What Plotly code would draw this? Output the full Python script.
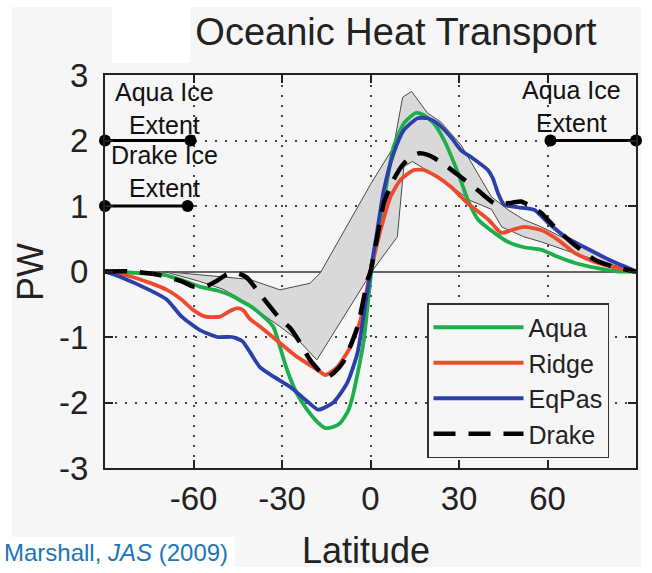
import plotly.graph_objects as go

# ---------------- data: northward ocean heat transport (PW) vs latitude ----------------
aqua_lat = [-90, -80, -70, -64, -58, -52, -47, -44.3, -41, -37.5, -33, -30.7, -28.3, -25, -21.5,
            -18, -15.3, -12.5, -10.2, -7.5, -5.8, -2.4, 0.3, 3.4, 5.7, 7.8, 11.3, 15.3, 18, 21.5,
            25, 29.7, 33, 36.5, 42, 46.7, 52, 58, 63.7, 69.3, 77, 84, 90]
aqua_pw = [0, -0.02, -0.05, -0.13, -0.23, -0.29, -0.37, -0.44, -0.52, -0.64, -0.84, -1.15, -1.5,
           -1.86, -2.11, -2.3, -2.39, -2.37, -2.31, -2.12, -1.86, -1.09, 0.0, 0.79, 1.4, 1.9, 2.26,
           2.42, 2.39, 2.26, 2.0, 1.5, 1.09, 0.79, 0.59, 0.45, 0.37, 0.33, 0.22, 0.13, 0.05, 0.0, 0]

ridge_lat = [-90, -81, -75, -69, -64, -60, -56, -51, -47.5, -45, -43, -41, -37.5, -30.7, -25, -18,
             -15.3, -11.3, -6.8, -3.4, 0, 3.4, 6.8, 10.2, 14.7, 18, 22.8, 27.3, 33, 40, 44.3, 47.7,
             52, 58, 63.7, 69.3, 77, 84, 90]
ridge_pw = [0, -0.08, -0.17, -0.28, -0.43, -0.59, -0.69, -0.69, -0.6, -0.56, -0.6, -0.72, -0.84,
            -1.09, -1.3, -1.5, -1.58, -1.46, -1.15, -0.74, 0, 0.63, 1.14, 1.4, 1.55, 1.55, 1.44,
            1.29, 1.04, 0.79, 0.59, 0.63, 0.68, 0.63, 0.48, 0.28, 0.13, 0.05, 0]

eqpas_lat = [-90, -85, -75, -69, -64, -58, -52, -47, -43.5, -41, -37.5, -33, -27.3, -21.5, -17.7,
             -12.6, -7.9, -4.4, -1.7, 0, 2.3, 4.5, 7.8, 11.3, 16, 19.4, 22.8, 27.3, 30.7, 34,
             39.8, 41.5, 43.2, 45.3, 50, 55.6, 60.3, 66, 72.6, 80.8, 87.6, 90]
eqpas_pw = [0, -0.08, -0.28, -0.43, -0.69, -0.89, -1.0, -1.0, -1.06, -1.22, -1.46, -1.6, -1.76,
            -1.98, -2.11, -2.0, -1.7, -1.24, -0.48, 0, 0.63, 1.24, 1.8, 2.16, 2.34, 2.34, 2.26,
            2.05, 1.85, 1.75, 1.55, 1.42, 1.2, 1.02, 0.98, 0.94, 0.74, 0.53, 0.37, 0.18, 0.05, 0]

drake_lat = [-90, -81, -72, -64, -60, -56, -52, -48.5, -45, -42, -36.5, -30.7, -27.3, -24, -20.5,
             -16, -14.7, -12.5, -9.2, -4.4, -1, 0, 2.3, 4.5, 7.8, 11.3, 16, 19.4, 23.9, 30.7, 36.4,
             42, 44.3, 48, 51, 55, 58, 62.4, 69.3, 76, 82, 87.6, 90]
drake_pw = [0, 0, -0.05, -0.15, -0.23, -0.23, -0.14, -0.04, -0.03, -0.09, -0.4, -0.72, -0.86,
            -1.08, -1.35, -1.58, -1.61, -1.55, -1.38, -0.84, -0.13, 0, 0.53, 1.04, 1.4, 1.65, 1.8,
            1.78, 1.67, 1.44, 1.24, 1.04, 1.03, 1.05, 1.07, 0.98, 0.89, 0.68, 0.4, 0.18, 0.08,
            0.02, 0]

# observational envelope (upper and lower bounds)
env_upper_lat = [-70, -58, -41, -30.7, -20.5, -17, 0, 7.8, 10.9, 13.9, 19.3, 23.9, 30.7, 41, 46.7,
                 52, 58, 69, 80.8, 89.7]
env_upper_pw = [0, -0.05, -0.12, -0.28, -0.18, -0.02, 1.33, 1.9, 2.66, 2.75, 2.42, 2.28, 1.93,
                1.14, 0.94, 0.79, 0.68, 0.43, 0.18, 0.02]
env_lower_lat = [-70, -58, -50, -44, -37.5, -30.7, -24, -18.2, 0.5, 3.4, 9.1, 11.3, 14.2, 25, 34,
                 41, 44.5, 52, 58, 69, 86, 89.7]
env_lower_pw = [0, -0.15, -0.27, -0.42, -0.62, -0.84, -1.07, -1.35, 0, 0.18, 0.53, 1.6, 1.68,
                1.38, 1.08, 0.95, 0.68, 0.53, 0.45, 0.28, 0.05, 0.02]

# sea-ice extents (latitude ranges) and the level at which they are marked
aqua_ice_south = [-90, -61]
aqua_ice_north = [61, 90]
drake_ice_south = [-90, -62]
aqua_ice_level = 2
drake_ice_level = 1

x_tickvals = [-60, -30, 0, 30, 60]
x_ticktext = ["-60", "-30", "0", "30", "60"]
y_tickvals = [-3, -2, -1, 0, 1, 2, 3]
y_ticktext = ["-3", "-2", "-1", "0", "1", "2", "3"]

# ---------------- figure geometry (pixels) ----------------
W, H = 652, 573
L, R, T, B = 105, 16, 75, 105
PW_ = W - L - R
PH_ = H - T - B


def px(x):
    return (x - L) / PW_


def py(y):
    return (H - B - y) / PH_


FONT = "Liberation Sans, Arial, Helvetica, sans-serif"
BG = "#f6f6f6"
GREEN = "#1fae4c"
RED = "#ee4a2e"
BLUE = "#2b40a8"

fig = go.Figure()

fig.add_trace(go.Scatter(
    x=env_upper_lat + env_lower_lat[::-1],
    y=env_upper_pw + env_lower_pw[::-1],
    fill="toself", fillcolor="#d9d9d9",
    line=dict(color="#4a4a4a", width=1),
    mode="lines", showlegend=False, hoverinfo="skip"))

series = [
    ("Aqua", aqua_lat, aqua_pw, dict(color=GREEN, width=3.8)),
    ("Ridge", ridge_lat, ridge_pw, dict(color=RED, width=3.8)),
    ("EqPas", eqpas_lat, eqpas_pw, dict(color=BLUE, width=3.8)),
    ("Drake", drake_lat, drake_pw, dict(color="black", width=4.5, dash="22px,13px")),
]
for name, lat, pw, line in series:
    fig.add_trace(go.Scatter(
        x=lat, y=pw, name=name, legendgroup=name, mode="lines",
        line=dict(shape="spline", smoothing=0.6, **line)))

# ice extent bars
for rng, lev in [(aqua_ice_south, aqua_ice_level), (aqua_ice_north, aqua_ice_level),
                 (drake_ice_south, drake_ice_level)]:
    fig.add_trace(go.Scatter(
        x=rng, y=[lev, lev], mode="lines+markers", cliponaxis=False,
        line=dict(color="black", width=3),
        marker=dict(color="black", size=12),
        showlegend=False, hoverinfo="skip"))

# ---------------- text labels ----------------
ann = []
ice_labels = [
    ("Aqua Ice<br>Extent", -70, 108),
    ("Drake Ice<br>Extent", -70, 171),
    ("Aqua Ice<br>Extent", 68, 106),
]
for txt, lat, ypix in ice_labels:
    ann.append(dict(text=txt, x=lat, xref="x", y=py(ypix), yref="paper",
                    showarrow=False, xanchor="center", yanchor="middle",
                    font=dict(size=25, color="#111", family=FONT)))

ann.append(dict(text="PW", x=px(30), y=py(272), xref="paper", yref="paper", textangle=-90,
                showarrow=False, xanchor="center", yanchor="middle",
                font=dict(size=36, color="#222", family=FONT)))
ann.append(dict(text="Latitude", x=px(366), y=py(550), xref="paper", yref="paper",
                showarrow=False, xanchor="center", yanchor="middle",
                font=dict(size=36, color="#222", family=FONT)))
ann.append(dict(text="Marshall, <i>JAS</i> (2009)", x=px(2), y=py(552), xref="paper",
                yref="paper", showarrow=False, xanchor="left", yanchor="middle",
                font=dict(size=24, color="#1b76b6", family=FONT)))

# background panels
shapes = []
for (x0, y0, x1, y1) in [(0, 0, W, 7), (0, 0, 12, H), (0, 567, W, H), (641, 0, W, H),
                         (112, 0, 190, 63), (0, 537, 235, H)]:
    shapes.append(dict(type="rect", xref="paper", yref="paper",
                       x0=px(x0), x1=px(x1), y0=py(y1), y1=py(y0),
                       fillcolor="white", line=dict(width=0), layer="below"))

axis_common = dict(
    showline=True, linecolor="#222", linewidth=2, mirror="ticks",
    ticks="inside", ticklen=8, tickwidth=1.5, tickcolor="#222",
    showgrid=True, gridcolor="#444", gridwidth=2, griddash="2px,8px",
    tickfont=dict(size=33, color="#222", family=FONT),
)

fig.update_layout(
    width=W, height=H,
    margin=dict(l=L, r=R, t=T, b=B),
    paper_bgcolor=BG, plot_bgcolor=BG,
    font=dict(family=FONT),
    title=dict(text="Oceanic Heat Transport", x=396 / W, xref="container", xanchor="center",
               y=1 - 32 / H, yref="container", yanchor="middle",
               font=dict(size=38, color="#222", family=FONT)),
    xaxis=dict(range=[-90, 90], tickvals=x_tickvals, ticktext=x_ticktext, zeroline=False,
               ticklabelstandoff=0, **axis_common),
    yaxis=dict(range=[-3, 3], tickvals=y_tickvals, ticktext=y_ticktext, zeroline=True,
               zerolinecolor="#666", zerolinewidth=2, ticklabelstandoff=8, **axis_common),
    legend=dict(x=px(427), y=py(303), xanchor="left", yanchor="top",
                bgcolor=BG, bordercolor="#333", borderwidth=1.5,
                font=dict(size=25, color="#222", family=FONT),
                itemwidth=90, tracegroupgap=0, traceorder="grouped",
                entrywidth=88),
    annotations=ann, shapes=shapes,
    showlegend=True,
)

fig.write_html("out.html")
